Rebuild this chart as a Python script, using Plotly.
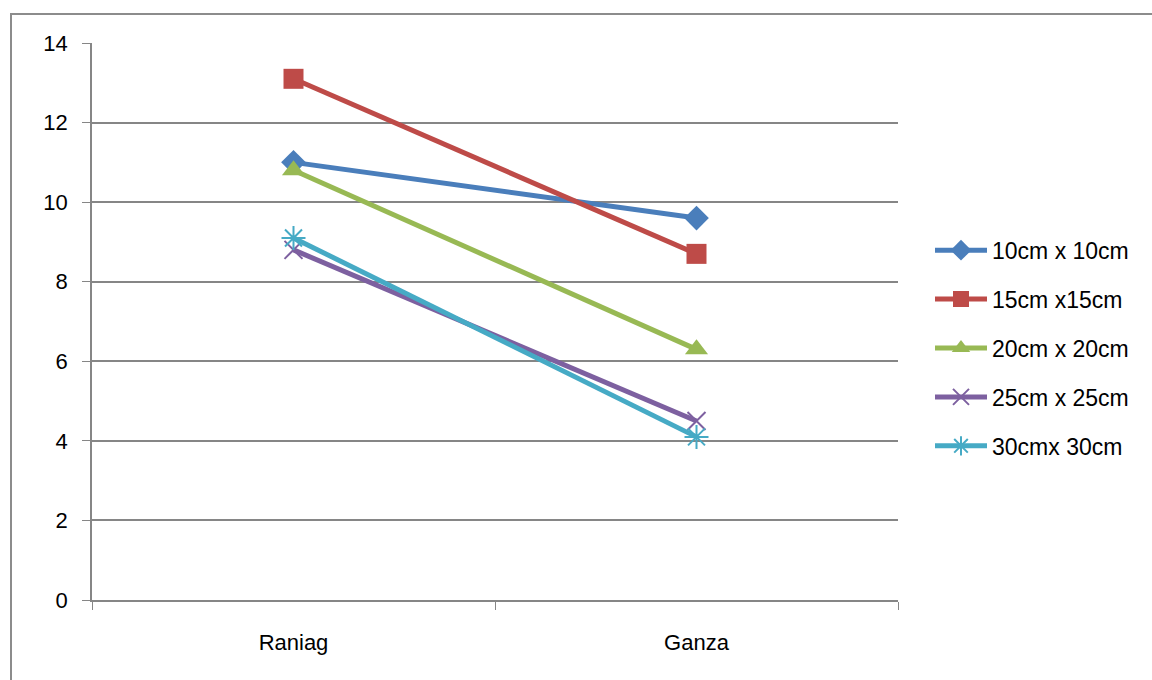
import plotly.graph_objects as go

# Sites on the category axis
sites = ["Raniag", "Ganza"]

# Spacing treatments and their values at each site
spacing_10 = [11.0, 9.6]
spacing_15 = [13.1, 8.7]
spacing_20 = [10.8, 6.3]
spacing_25 = [8.8, 4.5]
spacing_30 = [9.1, 4.1]

series_names = ["10cm x 10cm", "15cm x15cm", "20cm x 20cm", "25cm x 25cm", "30cmx 30cm"]
y_ticks = [0, 2, 4, 6, 8, 10, 12, 14]

series_values = [spacing_10, spacing_15, spacing_20, spacing_25, spacing_30]
colors = ["#4a7ebb", "#be4b48", "#98b954", "#7d60a0", "#46aac5"]
symbols = ["diamond", "square", "triangle-up", "x-thin-open", "asterisk-open"]
sizes = [19, 20, 20, 18, 20]

fig = go.Figure()
for i, (name, vals) in enumerate(zip(series_names, series_values)):
    open_sym = symbols[i].endswith("open")
    fig.add_trace(go.Scatter(
        x=sites, y=vals, name=name, mode="lines+markers",
        legendgroup=f"g{i}",
        line=dict(color=colors[i], width=5),
        marker=dict(symbol=symbols[i], size=sizes[i], color=colors[i],
                    line=dict(color=colors[i], width=2 if open_sym else 0)),
    ))

L, R, T, B = 92, 254, 43, 80
W, H = 1152 - L - R, 680 - T - B

# Outer chart border (top and left edges visible)
fig.add_shape(type="rect", xref="paper", yref="paper",
              x0=(11 - L) / W, x1=(1170 - L) / W,
              y0=-(700 - 600) / H, y1=1 + (T - 14) / H,
              line=dict(color="#8c8c8c", width=2), layer="below")

fig.update_layout(
    width=1152, height=680,
    margin=dict(l=L, r=R, t=T, b=B),
    paper_bgcolor="white", plot_bgcolor="white",
    font=dict(family="Liberation Sans, Arial, sans-serif", size=22, color="#000000"),
    showlegend=True,
    legend=dict(x=(930 - L) / W, xanchor="left", y=0.452, yanchor="middle",
                font=dict(size=23), itemwidth=52, tracegroupgap=16,
                bgcolor="rgba(0,0,0,0)"),
)
fig.update_xaxes(
    type="category", tickson="boundaries", ticks="outside", ticklen=8,
    tickcolor="#868686", showline=True, linecolor="#868686", linewidth=1.5,
    showgrid=False, tickfont=dict(size=22), range=[-0.5, 1.5],
    ticklabelstandoff=22,
)
fig.update_yaxes(
    range=[0, 14], tickvals=y_ticks, ticks="outside", ticklen=8,
    tickcolor="#868686", showline=True, linecolor="#868686", linewidth=1.5,
    showgrid=True, gridcolor="#868686", gridwidth=1.5, zeroline=False,
    tickfont=dict(size=22), ticklabelstandoff=10,
)

fig.write_html("out.html")
